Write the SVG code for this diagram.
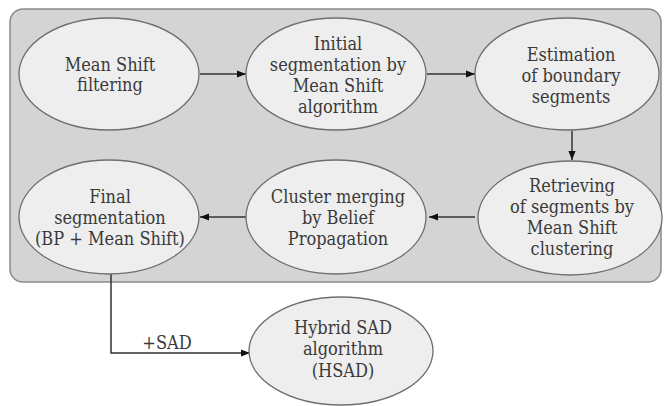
<svg xmlns="http://www.w3.org/2000/svg" width="665" height="406" viewBox="0 0 665 406">
<defs>
<style>
.node ellipse{fill:#eeeeee;stroke:#6e6e6e;stroke-width:1.3}
text{font-family:'DejaVu Serif Condensed','DejaVu Serif',serif;font-size:18px;fill:#3a3a3a;text-anchor:middle}
.conn line,.conn polyline{stroke:#333;stroke-width:1.5;fill:none}
</style>
<marker id="ah" viewBox="0 0 10 10" refX="10" refY="5" markerWidth="9" markerHeight="9" markerUnits="userSpaceOnUse" orient="auto">
<path d="M0,1 L10,5 L0,9 z" fill="#111"/>
</marker>
</defs>
<rect x="0" y="0" width="665" height="406" fill="#ffffff"/>
<g id="panel">
<rect x="10" y="9" width="651" height="273" rx="13" ry="13" fill="#d4d4d4" stroke="#8a8a8a" stroke-width="1.5"/>
</g>
<g class="conn" id="connectors">
<line x1="200" y1="74" x2="246" y2="74" marker-end="url(#ah)"/>
<line x1="427" y1="74" x2="475" y2="74" marker-end="url(#ah)"/>
<line x1="572" y1="131" x2="572" y2="160" marker-end="url(#ah)"/>
<line x1="475" y1="217" x2="429" y2="217" marker-end="url(#ah)"/>
<line x1="246" y1="217" x2="200" y2="217" marker-end="url(#ah)"/>
<polyline points="111,273 111,353 250,353" marker-end="url(#ah)"/>
<text x="167" y="349">+SAD</text>
</g>
<g class="node" id="n1">
<ellipse cx="109" cy="74" rx="90" ry="56"/>
<text x="110" y="71">Mean Shift</text>
<text x="110" y="91">filtering</text>
</g>
<g class="node" id="n2">
<ellipse cx="336" cy="74" rx="90" ry="56"/>
<text x="338" y="50">Initial</text>
<text x="338" y="71">segmentation by</text>
<text x="338" y="92">Mean Shift</text>
<text x="338" y="113">algorithm</text>
</g>
<g class="node" id="n3">
<ellipse cx="567" cy="74" rx="92" ry="56"/>
<text x="571" y="61">Estimation</text>
<text x="571" y="82">of boundary</text>
<text x="571" y="103">segments</text>
</g>
<g class="node" id="n6">
<ellipse cx="570" cy="218" rx="92" ry="57"/>
<text x="572" y="192">Retrieving</text>
<text x="572" y="213">of segments by</text>
<text x="572" y="234">Mean Shift</text>
<text x="572" y="255">clustering</text>
</g>
<g class="node" id="n5">
<ellipse cx="336" cy="217" rx="90" ry="57"/>
<text x="338" y="203">Cluster merging</text>
<text x="338" y="224">by Belief</text>
<text x="338" y="245">Propagation</text>
</g>
<g class="node" id="n4">
<ellipse cx="109" cy="217" rx="90" ry="57"/>
<text x="110" y="203">Final</text>
<text x="110" y="224">segmentation</text>
<text x="110" y="245">(BP + Mean Shift)</text>
</g>
<g class="node" id="n7">
<ellipse cx="341" cy="351" rx="92" ry="54"/>
<text x="343" y="334">Hybrid SAD</text>
<text x="343" y="355">algorithm</text>
<text x="343" y="377">(HSAD)</text>
</g>
</svg>
